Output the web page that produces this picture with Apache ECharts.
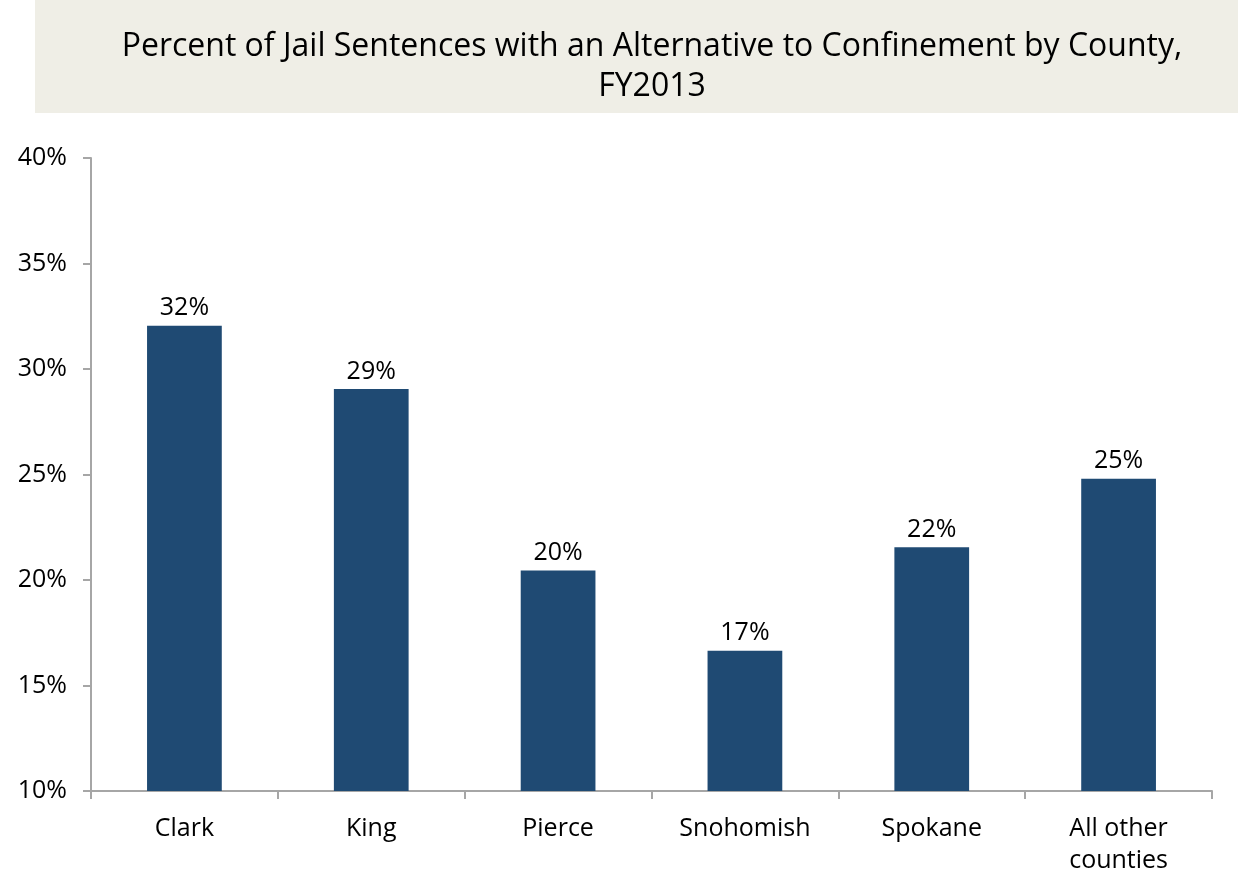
<!DOCTYPE html>
<html>
<head>
<meta charset="utf-8">
<style>
  html, body { margin: 0; padding: 0; background: #fff; }
  #chart { width: 1238px; height: 877px; }
</style>
<script src="https://cdn.jsdelivr.net/npm/echarts@6/dist/echarts.min.js"></script>
</head>
<body>
<div id="chart"></div>
<script>
// counties and share of jail sentences with an alternative (percent)
const counties = ['Clark', 'King', 'Pierce', 'Snohomish', 'Spokane', 'All other\ncounties']
const shares = [32.05, 29.05, 20.45, 16.65, 21.55, 24.8]

const chart = echarts.init(document.getElementById('chart'))
const font = '"Open Sans", "Noto Sans", sans-serif'

chart.setOption({
  animation: false,
  textStyle: { fontFamily: font },
  graphic: [{
    type: 'rect',
    shape: { x: 35, y: 0, width: 1203, height: 113 },
    style: { fill: '#EFEEE6' },
    z: -1
  }, {
    type: 'text',
    x: 652,
    y: 27,
    style: {
      text: 'Percent of Jail Sentences with an Alternative to Confinement by County,\nFY2013',
      align: 'center',
      verticalAlign: 'top',
      font: '32px ' + font,
      lineHeight: 40,
      fill: '#000'
    }
  }],
  grid: {
    left: 91,
    right: 26,
    top: 158,
    bottom: 84
  },
  xAxis: {
    type: 'category',
    data: counties,
    axisLine: { lineStyle: { color: '#A6A6A6', width: 2 } },
    axisTick: { show: true, length: 8, lineStyle: { color: '#A6A6A6', width: 2 } },
    axisLabel: {
      color: '#000',
      fontSize: 25,
      lineHeight: 32,
      margin: 22,
      fontFamily: font
    }
  },
  yAxis: {
    type: 'value',
    min: 10,
    max: 40,
    interval: 5,
    splitLine: { show: false },
    axisLine: { show: true, lineStyle: { color: '#A6A6A6', width: 2 } },
    axisTick: { show: true, length: 8, lineStyle: { color: '#A6A6A6', width: 2 } },
    axisLabel: {
      formatter: '{value}%',
      color: '#000',
      fontSize: 25,
      margin: 24,
      fontFamily: font
    }
  },
  series: [{
    type: 'bar',
    data: shares,
    barWidth: '40%',
    itemStyle: { color: '#1F4A73' },
    label: {
      show: true,
      position: 'top',
      distance: 5,
      color: '#000',
      fontSize: 25,
      fontFamily: font,
      formatter: p => Math.round(p.value) + '%'
    }
  }]
})
</script>
</body>
</html>
